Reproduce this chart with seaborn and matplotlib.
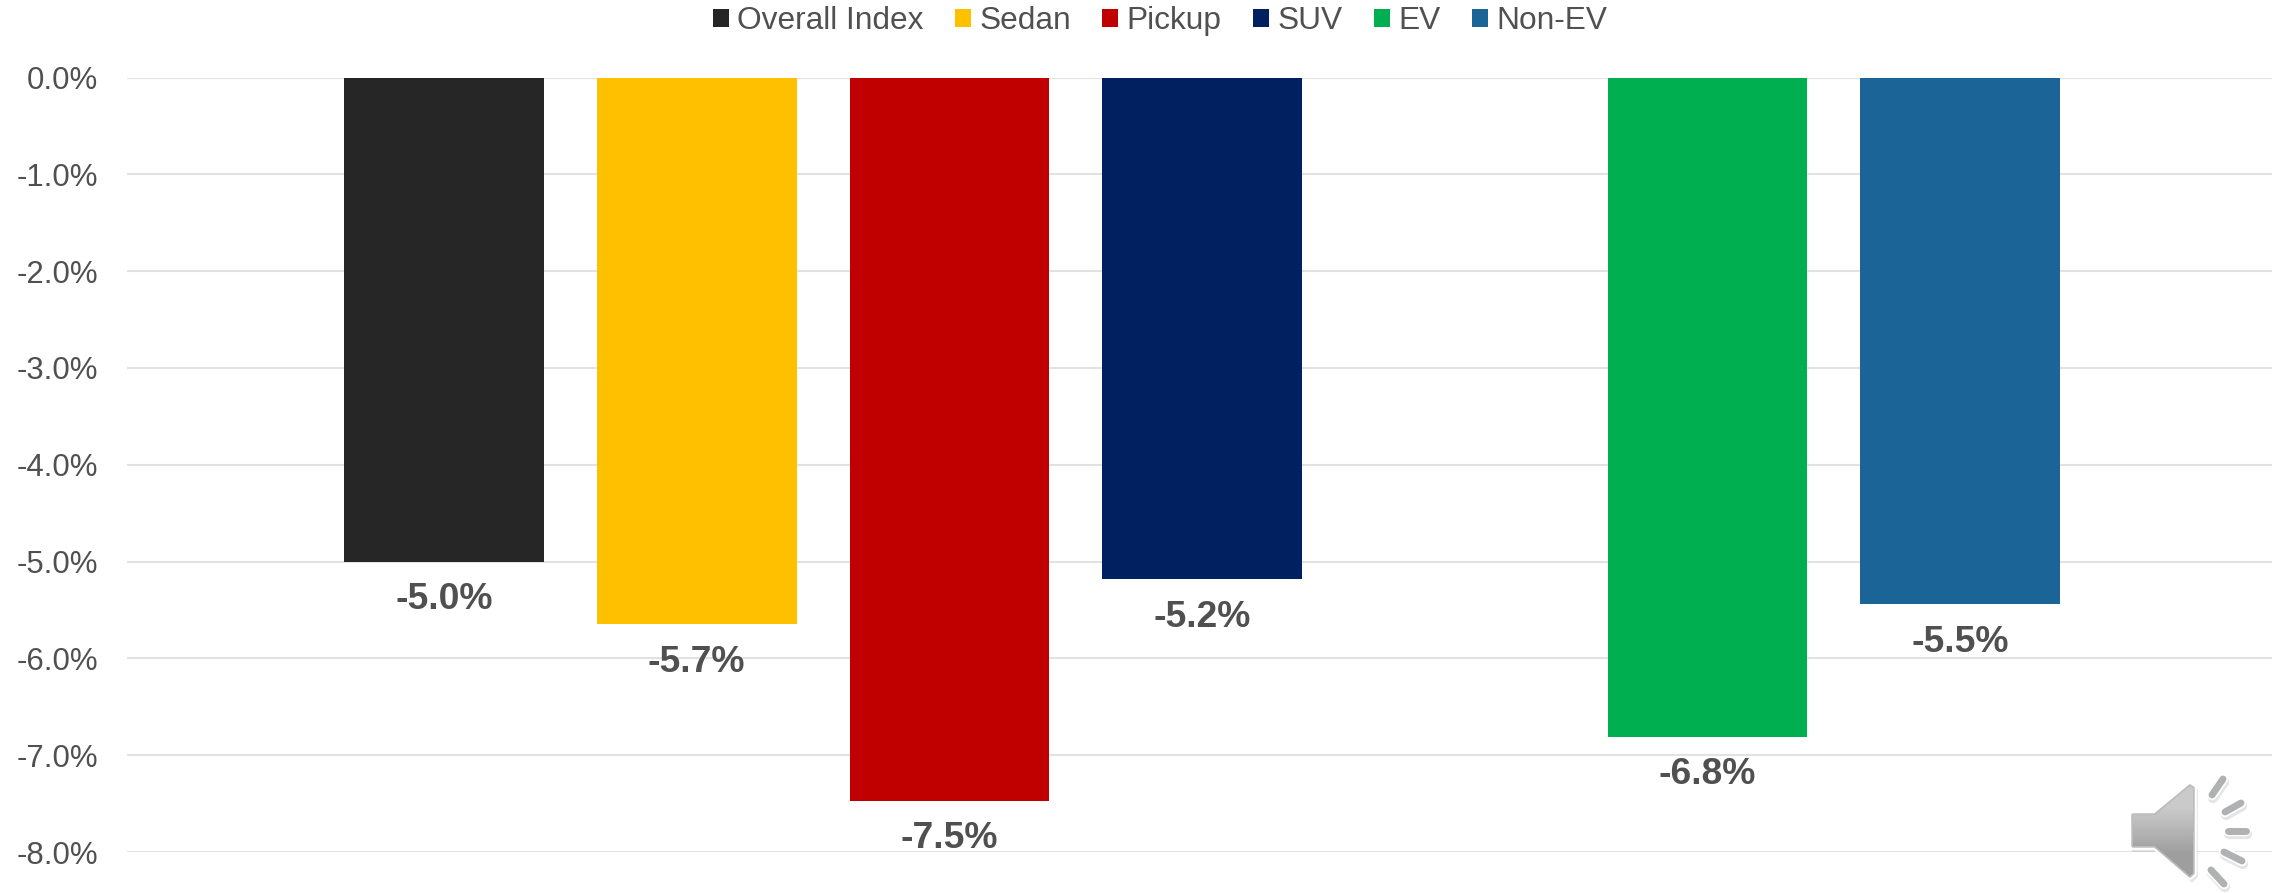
import numpy as np
import pandas as pd
import matplotlib
matplotlib.use("Agg")
import matplotlib.pyplot as plt
from matplotlib.patches import Polygon
import seaborn as sns

# values
categories = ["Overall Index", "Sedan", "Pickup", "SUV", "EV", "Non-EV"]
values = [-5.0, -5.65, -7.47, -5.18, -6.81, -5.44]
value_labels = ["-5.0%", "-5.7%", "-7.5%", "-5.2%", "-6.8%", "-5.5%"]
colors = ["#262626", "#FFC000", "#C00000", "#002060", "#00B050", "#1B6497"]
# empty slot makes the gap between SUV and EV
order = ["Overall Index", "Sedan", "Pickup", "SUV", "", "EV", "Non-EV"]
y_ticks = [0, -1, -2, -3, -4, -5, -6, -7, -8]

sns.set_theme(style="white")
plt.rcParams["font.family"] = ["Liberation Sans", "DejaVu Sans"]

W, H = 2287, 893
text_color = "#505050"
df = pd.DataFrame({"category": categories, "change": values})

fig = plt.figure(figsize=(W / 100, H / 100), dpi=100)
ax = fig.add_axes([127 / W, 1 - 852 / H, (2272 - 127) / W, (852 - 77.5) / H])

sns.barplot(data=df, x="category", y="change", hue="category", order=order,
            hue_order=categories, palette=dict(zip(categories, colors)),
            dodge=False, width=0.79, saturation=1, legend=True, linewidth=0,
            ax=ax, zorder=3)

ax.set_xlim(-1.255, 7.235)
ax.set_ylim(-8, 0)
ax.set_yticks(y_ticks)
ax.set_yticklabels([f"{t:.1f}%" for t in y_ticks], fontsize=22.4, color=text_color)
ax.set_xticks([])
ax.set_xlabel("")
ax.set_ylabel("")
ax.tick_params(axis="y", length=0, pad=21)
ax.grid(axis="y", color="#E2E2E2", lw=1.5)
ax.set_axisbelow(True)
sns.despine(ax=ax, left=True, bottom=True, top=True, right=True)

for cat, val, lab in zip(categories, values, value_labels):
    ax.annotate(lab, (order.index(cat), val), xytext=(0, -27.4),
                textcoords="offset points", ha="center", va="center",
                fontsize=26.8, fontweight="bold", color=text_color,
                annotation_clip=False, zorder=5)

sns.move_legend(ax, "upper center", bbox_to_anchor=(1160 / W, 1 - 6 / H),
                bbox_transform=fig.transFigure, ncol=6, frameon=False, title=None,
                fontsize=22.8, handlelength=0.5, handleheight=0.5,
                handletextpad=0.26, columnspacing=1.0, borderpad=0,
                borderaxespad=0, labelcolor=text_color)

# speaker icon, pixel coordinates of the full image
ov = fig.add_axes([0, 0, 1, 1], zorder=10)
ov.patch.set_alpha(0)

body = [(2133, 815), (2155, 815), (2190, 786), (2193, 788), (2193, 873),
        (2190, 876), (2155, 846), (2133, 846)]
rays = [((2212, 795), (2223, 779)), ((2225, 812), (2241, 803)),
        ((2228, 831), (2246, 831)), ((2224, 852), (2242, 861)),
        ((2211, 870), (2224, 884))]

shadow = [(x + 2, y + 3) for x, y in body]
ov.add_patch(Polygon(shadow, closed=True, fc="#000000", ec="#000000", lw=4, alpha=0.10))
ov.add_patch(Polygon(body, closed=True, fc="white", ec="white", lw=5.5, joinstyle="round"))
ov.add_patch(Polygon(body, closed=True, fc="#B4B5B7", ec="#B4B5B7", lw=2.5, joinstyle="round", alpha=0.9))
grad = np.array([[0.80], [0.61]])
im = ov.imshow(grad, extent=(2133, 2193, 877, 785), cmap="gray", vmin=0, vmax=1,
               aspect="auto", alpha=0.92, interpolation="bilinear", zorder=3)
im.set_clip_path(Polygon(body, closed=True, transform=ov.transData))

for (x0, y0), (x1, y1) in rays:
    ov.plot([x0 + 1, x1 + 1], [y0 + 3, y1 + 3], color="#000000", alpha=0.10, lw=7.5,
            solid_capstyle="round", zorder=2)
    ov.plot([x0, x1], [y0, y1], color="white", lw=7.5, solid_capstyle="round", zorder=2)
    ov.plot([x0, x1], [y0, y1], color="#B0B1B3", lw=5, solid_capstyle="round", zorder=2)

ov.set_xlim(0, W)
ov.set_ylim(H, 0)
ov.axis("off")

fig.savefig("out.png", dpi=100, facecolor="white")
